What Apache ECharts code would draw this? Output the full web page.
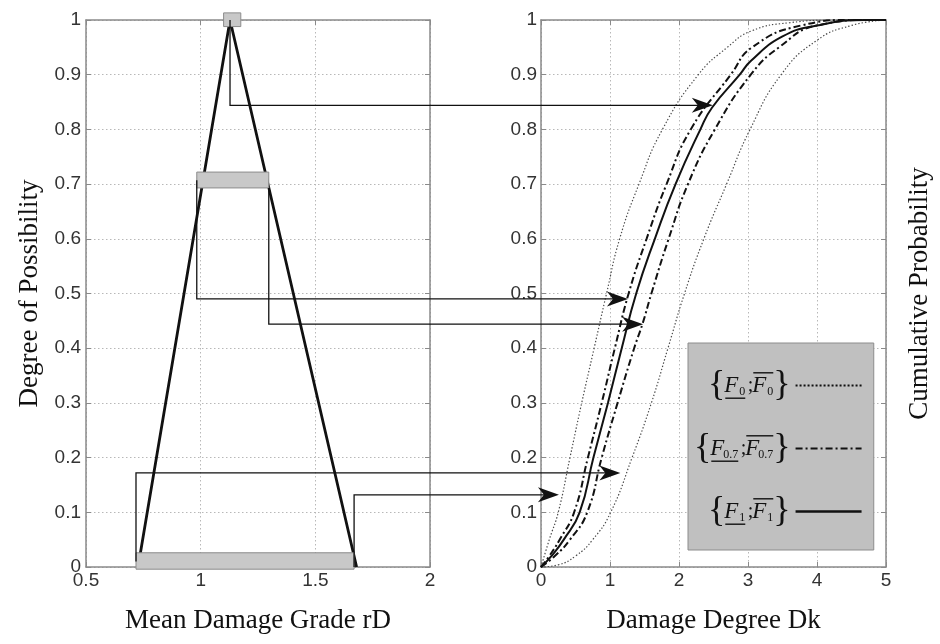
<!DOCTYPE html>
<html><head><meta charset="utf-8">
<script src="https://cdn.jsdelivr.net/npm/echarts@6/dist/echarts.min.js"></script>
<style>html,body{margin:0;padding:0;background:#fff}#c{width:940px;height:644px}</style>
</head><body><div id="c"></div>
<script>
// ---------------- data ----------------
// left panel: triangular fuzzy number of the mean damage grade
const triangle = [[0.735, 0.02], [1.128, 1.0], [1.68, 0.0]];
// alpha-cut boxes (x from, x to, y from, y to)
const cutX1 = [1.100, 0.983, 0.718];
const cutX2 = [1.175, 1.297, 1.669];
const cutY1 = [0.988, 0.693, -0.004];
const cutY2 = [1.013, 0.722, 0.026];
// connector arrows: start (left panel), level, end x (right panel)
const connFromX = [1.128, 0.983, 1.297, 0.718, 1.669];
const connFromY = [1.0, 0.707, 0.693, 0.01, 0.0];
const connLevel = [0.844, 0.49, 0.444, 0.172, 0.132];
const connToX = [2.49, 1.26, 1.48, 1.15, 0.26];
// right panel: cumulative probability curves [Dk, P]
const f0Lower = [[0,0],[0.12,0.05],[0.25,0.1],[0.42,0.2],[0.59,0.3],[0.77,0.4],[0.95,0.5],[1.14,0.6],[1.42,0.7],[1.76,0.8],[2.28,0.9],[2.7,0.95],[3.05,0.98],[3.6,0.995],[4.3,1],[5,1]];
const f0Upper = [[0,0],[0.25,0.004],[0.5,0.02],[0.75,0.05],[1.01,0.1],[1.32,0.2],[1.6,0.3],[1.84,0.4],[2.08,0.5],[2.36,0.6],[2.69,0.7],[3.03,0.8],[3.48,0.9],[4.0,0.963],[4.5,0.99],[5,1]];
const f07Lower = [[0,0],[0.12,0.02],[0.27,0.05],[0.48,0.1],[0.68,0.2],[0.88,0.3],[1.07,0.4],[1.27,0.5],[1.53,0.6],[1.82,0.7],[2.17,0.8],[2.75,0.9],[3.06,0.95],[3.77,0.99],[4.5,1],[5,1]];
const f07Upper = [[0,0],[0.2,0.02],[0.42,0.05],[0.67,0.1],[0.88,0.2],[1.11,0.3],[1.35,0.4],[1.47,0.444],[1.6,0.5],[1.85,0.6],[2.13,0.7],[2.52,0.8],[3.04,0.9],[3.45,0.95],[4.0,0.99],[4.8,1],[5,1]];
const f1 = [[0,0],[0.15,0.02],[0.33,0.05],[0.56,0.1],[0.76,0.2],[0.97,0.3],[1.17,0.4],[1.38,0.5],[1.65,0.6],[1.95,0.7],[2.31,0.8],[2.48,0.84],[2.88,0.9],[3.04,0.925],[3.5,0.97],[4.0,0.99],[4.7,1],[5,1]];
const legendNames = ['F0', 'F0.7', 'F1'];
const legendSubs = ['0', '0.7', '1'];

// ---------------- styling ----------------
const SANS = 'Liberation Sans', SERIF = 'Liberation Serif';
const AX = '#8a8a8a', GRID = '#b8b8b8', INK = '#111';

const ctx = document.createElement('canvas').getContext('2d');
ctx.font = '36px "Liberation Serif"';
const wLB = Math.round(ctx.measureText('{').width);
const wRB = ctx.measureText('}').width;
const wF = 13, wSemi = 8, wSub = {'0': 7, '0.7': 14, '1': 7};

function axisCommon(extra) {
  return Object.assign({
    type: 'value',
    axisLine: {show: true, onZero: false, lineStyle: {color: AX, width: 1.5}},
    axisTick: {show: true, inside: true, length: 5, lineStyle: {color: AX, width: 1}},
    splitLine: {show: false},
    axisLabel: {show: false}
  }, extra);
}
const labelStyle = {show: true, fontFamily: SANS, fontSize: 19, color: '#333'};
const split = {show: true, lineStyle: {color: GRID, type: [1.5, 2.5], width: 1}};
const nameStyle = {fontFamily: SERIF, fontSize: 27, color: INK};

const rich = {
  lb: {fontSize: 36, fontFamily: SERIF, width: wLB, lineHeight: 24, color: INK},
  F: {fontSize: 23, fontStyle: 'italic', fontFamily: SERIF, width: wF, lineHeight: 24, color: INK},
  sm: {fontSize: 20, fontFamily: SERIF, width: wSemi, lineHeight: 24, color: INK}
};
legendSubs.forEach((s, i) => {
  rich['s' + i] = {fontSize: 12, fontFamily: SERIF, width: wSub[s], lineHeight: 24, verticalAlign: 'bottom', color: INK};
  rich['ob' + i] = {width: wF + wSub[s], height: 1.4, backgroundColor: INK, lineHeight: 5, verticalAlign: 'bottom'};
  rich['ub' + i] = {width: wF + wSub[s], height: 1.4, backgroundColor: INK, lineHeight: 5, verticalAlign: 'top'};
  rich['ru' + i] = {width: wSemi + wF + wSub[s] + wRB, lineHeight: 5};
});
rich.rs = {width: wRB, lineHeight: 5};

function legendLabel(name) {
  const i = legendNames.indexOf(name), s = legendSubs[i];
  return '{ob' + i + '|}{rs|}\n' +
    '{lb|{}{F|F}{s' + i + '|' + s + '}{sm|;}{F|F}{s' + i + '|' + s + '}}\n' +
    '{ub' + i + '|}{ru' + i + '|}';
}

const dotted = {color: '#4a4a4a', width: 1.2, type: [1.4, 2]};
const dashDot = {color: INK, width: 2, type: [7, 3, 2, 3]};
const solid = {color: INK, width: 2};
const SMOOTH = 0.5;

const option = {
  animation: false,
  backgroundColor: '#fff',
  grid: [
    {left: 86, top: 20, width: 344, height: 547},
    {left: 541, top: 20, width: 345, height: 547}
  ],
  xAxis: [
    axisCommon({gridIndex: 0, position: 'bottom', min: 0.5, max: 2, interval: 0.5,
      axisLabel: Object.assign({margin: 4}, labelStyle), splitLine: split,
      name: 'Mean Damage Grade rD', nameLocation: 'middle', nameGap: 40, nameTextStyle: nameStyle}),
    axisCommon({gridIndex: 0, position: 'top', min: 0.5, max: 2, interval: 0.5}),
    axisCommon({gridIndex: 1, position: 'bottom', min: 0, max: 5, interval: 1,
      axisLabel: Object.assign({margin: 4}, labelStyle), splitLine: split,
      name: 'Damage Degree Dk', nameLocation: 'middle', nameGap: 40, nameTextStyle: nameStyle}),
    axisCommon({gridIndex: 1, position: 'top', min: 0, max: 5, interval: 1})
  ],
  yAxis: [
    axisCommon({gridIndex: 0, position: 'left', min: 0, max: 1, interval: 0.1,
      axisLabel: Object.assign({margin: 5}, labelStyle), splitLine: split,
      name: 'Degree of Possibility', nameLocation: 'middle', nameGap: 43, nameTextStyle: nameStyle}),
    axisCommon({gridIndex: 0, position: 'right', min: 0, max: 1, interval: 0.1}),
    axisCommon({gridIndex: 1, position: 'left', min: 0, max: 1, interval: 0.1,
      axisLabel: Object.assign({margin: 4}, labelStyle), splitLine: split}),
    axisCommon({gridIndex: 1, position: 'right', min: 0, max: 1, interval: 0.1,
      name: 'Cumulative Probability', nameLocation: 'middle', nameGap: 20, nameTextStyle: nameStyle})
  ],
  legend: {
    orient: 'vertical', left: 688, top: 343, align: 'right',
    itemWidth: 66, itemHeight: 14, itemGap: -2,
    padding: [10, 11, 6, 6],
    backgroundColor: '#c0c0c0', borderColor: '#8c8c8c', borderWidth: 1,
    selectedMode: false,
    itemStyle: {opacity: 0},
    data: [
      {name: 'F0', lineStyle: {color: INK, width: 2, type: [2, 2]}},
      {name: 'F0.7', lineStyle: {color: INK, width: 2, type: [7, 3, 2, 3]}},
      {name: 'F1', lineStyle: {color: INK, width: 2.4, type: 'solid'}}
    ],
    formatter: legendLabel,
    textStyle: {fontFamily: SERIF, fontSize: 36, lineHeight: 5, color: INK, rich: rich}
  },
  series: [
    {type: 'line', name: 'triangle', xAxisIndex: 0, yAxisIndex: 0, data: triangle,
      symbol: 'none', lineStyle: {color: INK, width: 2.8}, z: 2, silent: true},
    {type: 'custom', name: 'cuts', xAxisIndex: 0, yAxisIndex: 0, clip: false, z: 5, silent: true,
      data: cutX1.map((x, i) => [x, cutX2[i], cutY1[i], cutY2[i]]),
      encode: {x: [0, 1], y: [2, 3]},
      renderItem: function (params, api) {
        const p1 = api.coord([api.value(0), api.value(3)]);
        const p2 = api.coord([api.value(1), api.value(2)]);
        return {type: 'rect', shape: {x: p1[0], y: p1[1], width: p2[0] - p1[0], height: p2[1] - p1[1]},
          style: {fill: '#c8c8c8', stroke: '#8c8c8c', lineWidth: 1}};
      }},
    {type: 'line', name: 'F0', xAxisIndex: 2, yAxisIndex: 2, data: f0Lower, symbol: 'none', smooth: SMOOTH, lineStyle: dotted, itemStyle: {color: INK}, z: 3},
    {type: 'line', name: 'F0', xAxisIndex: 2, yAxisIndex: 2, data: f0Upper, symbol: 'none', smooth: SMOOTH, lineStyle: dotted, itemStyle: {color: INK}, z: 3},
    {type: 'line', name: 'F0.7', xAxisIndex: 2, yAxisIndex: 2, data: f07Lower, symbol: 'none', smooth: SMOOTH, lineStyle: dashDot, itemStyle: {color: INK}, z: 3},
    {type: 'line', name: 'F0.7', xAxisIndex: 2, yAxisIndex: 2, data: f07Upper, symbol: 'none', smooth: SMOOTH, lineStyle: dashDot, itemStyle: {color: INK}, z: 3},
    {type: 'line', name: 'F1', xAxisIndex: 2, yAxisIndex: 2, data: f1, symbol: 'none', smooth: SMOOTH, lineStyle: solid, itemStyle: {color: INK}, z: 3}
  ]
};

const chart = echarts.init(document.getElementById('c'), null, {renderer: 'canvas'});
chart.setOption(option);

// connectors: positions come from the two grids' own scales
const L = (x, y) => chart.convertToPixel({xAxisIndex: 0, yAxisIndex: 0}, [x, y]);
const R = (x, y) => chart.convertToPixel({xAxisIndex: 2, yAxisIndex: 2}, [x, y]);
const els = [];
for (let i = 0; i < connFromX.length; i++) {
  const a = L(connFromX[i], connFromY[i]);
  const b = L(connFromX[i], connLevel[i]);
  const c = R(connToX[i], connLevel[i]);
  els.push({type: 'polyline', silent: true, z: 10,
    shape: {points: [a, b, [c[0] - 12, c[1]]]},
    style: {stroke: INK, lineWidth: 1.3, fill: null}});
  els.push({type: 'polygon', silent: true, z: 10,
    shape: {points: [[c[0], c[1]], [c[0] - 21, c[1] - 7.5], [c[0] - 15, c[1]], [c[0] - 21, c[1] + 7.5]]},
    style: {fill: INK}});
}
chart.setOption({graphic: els});
</script>
</body></html>
